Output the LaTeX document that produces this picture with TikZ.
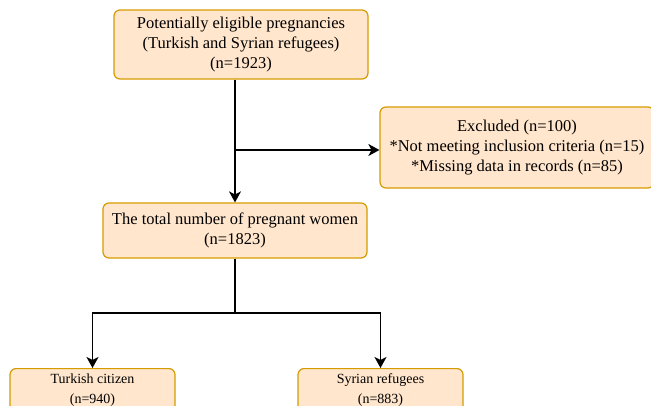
\documentclass[tikz,border=0pt]{standalone}
\usepackage{fontspec}
\setmainfont{Liberation Serif}
\usetikzlibrary{arrows.meta}
\definecolor{boxline}{HTML}{D79B00}
\definecolor{boxfill}{HTML}{FFE6CC}

\begin{document}
\begin{tikzpicture}[x=1pt,y=-1pt,
    box/.style={draw=boxline, fill=boxfill, line width=1.2pt, rounded corners=6pt,
      align=center, font=\fontsize{16.5}{20}\selectfont, inner sep=0pt},
    smallbox/.style={box, font=\fontsize{14}{20}\selectfont, minimum width=165pt, anchor=north, inner ysep=5pt},
    line/.style={line width=1.2pt},
    >={Stealth[length=11pt,width=12pt,inset=3pt]}]
            \useasboundingbox (0,0) rectangle (651,405);
            \clip (0,0) rectangle (651,405);

            % Draw boxes
            \node[box, minimum width=254pt, minimum height=69pt] (eligible) at (241,44.5)
                {Potentially eligible pregnancies\\(Turkish and Syrian refugees)\\(n=1923)};
            \node[box, minimum width=274pt, minimum height=81pt] (excluded) at (517,147.5)
                {Excluded (n=100)\\*Not meeting inclusion criteria (n=15)\\*Missing data in records (n=85)};
            \node[box, minimum width=264pt, minimum height=55pt] (total) at (235,230.5)
                {The total number of pregnant women\\(n=1823)};
            \node[smallbox] (turkish) at (92.5,368) {Turkish citizen\\(n=940)};
            \node[smallbox] (syrian) at (380.5,368) {Syrian refugees\\(n=883)};

            % Draw arrows
            \coordinate (split) at (235,150);
            \coordinate (fork) at (235,313);
            \draw[line, ->] (eligible.south -| total.north) -- (total.north);
            \draw[line, ->] (split) -- (split -| excluded.west);
            \draw[line] (total.south) -- (fork);
            \draw[line, ->] (fork) -| (turkish.north);
            \draw[line, ->] (fork) -| (syrian.north);
\end{tikzpicture}
\end{document}
